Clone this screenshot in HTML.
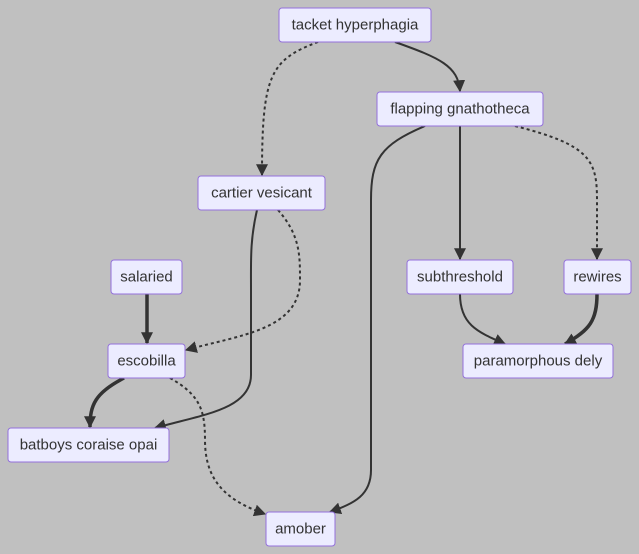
<!DOCTYPE html>
<html><head><meta charset="utf-8"><style>
html,body{margin:0;padding:0;background:#c0c0c0;}
svg{display:block;}
text{font-family:"Liberation Sans",sans-serif;font-size:15px;fill:#333;text-anchor:middle;dominant-baseline:central;}
rect{fill:#ECECFF;stroke:#9370DB;stroke-width:1;}
.e{fill:none;stroke:#333;stroke-width:2;}
.t{stroke-width:3.5;}
.d{stroke-dasharray:3,3;}
</style></head><body>
<svg width="639" height="554" viewBox="0 0 639 554">
<defs>
<marker id="a" viewBox="0 0 10 10" refX="9" refY="5" markerWidth="6" markerHeight="6" orient="auto" markerUnits="userSpaceOnUse" ><path d="M0,0L10,5L0,10z" fill="#333"/></marker>
<marker id="b" viewBox="0 0 10 10" refX="9" refY="5" markerWidth="12" markerHeight="12" orient="auto" markerUnits="userSpaceOnUse"><path d="M0,0L10,5L0,10z" fill="#333"/></marker>
</defs>
<g marker-end="url(#b)">
<path class="e" d="M395,42 C440,58 458,66 460,91"/>
<path class="e d" d="M318,42 C270,60 262,75 262,175"/>
<path class="e" d="M425,126 C380,145 371,160 371,200 L371,470 C371,495 355,503 330,512"/>
<path class="e" d="M460,126 L460,259"/>
<path class="e d" d="M515,126 C590,145 597,160 597,200 L597,259"/>
<path class="e d" d="M278,210 C300,235 300,255 300,280 C300,330 240,335 186,350"/>
<path class="e" d="M257,210 C250,240 251,260 251,290 L251,375 C251,410 200,415 155,428"/>
<path class="e t" d="M147,294 L147,343"/>
<path class="e t" d="M124,378 C95,393 90,405 90,427"/>
<path class="e d" d="M170,378 C200,395 205,410 205,440 C205,480 225,500 265,514"/>
<path class="e" d="M460,294 C460,325 478,332 505,344"/>
<path class="e t" d="M597,294 C597,320 590,330 565,344"/>
</g>
<rect x="279" y="8" width="152" height="34" rx="3"/><text x="355" y="25">tacket hyperphagia</text>
<rect x="377" y="92" width="166" height="34" rx="3"/><text x="460" y="109">flapping gnathotheca</text>
<rect x="198" y="176" width="127" height="34" rx="3"/><text x="261.5" y="193">cartier vesicant</text>
<rect x="111" y="260" width="71" height="34" rx="3"/><text x="146.5" y="277">salaried</text>
<rect x="407" y="260" width="106" height="34" rx="3"/><text x="460" y="277">subthreshold</text>
<rect x="564" y="260" width="67" height="34" rx="3"/><text x="597.5" y="277">rewires</text>
<rect x="108" y="344" width="77" height="34" rx="3"/><text x="146.5" y="361">escobilla</text>
<rect x="463" y="344" width="150" height="34" rx="3"/><text x="538" y="361">paramorphous dely</text>
<rect x="8" y="428" width="161" height="34" rx="3"/><text x="88.5" y="445">batboys coraise opai</text>
<rect x="266" y="512" width="69" height="34" rx="3"/><text x="300.5" y="529">amober</text>
</svg>
</body></html>
